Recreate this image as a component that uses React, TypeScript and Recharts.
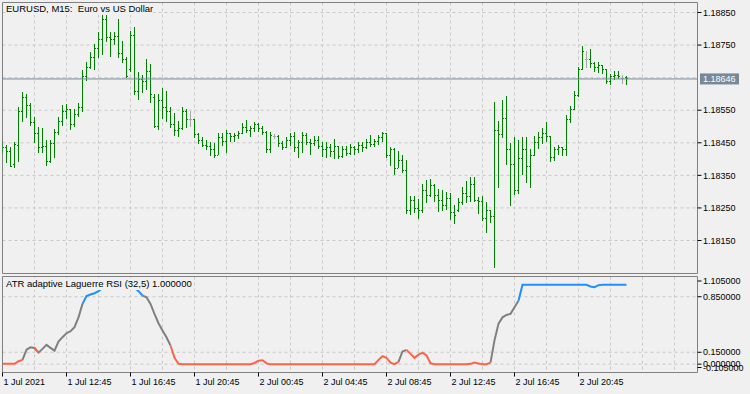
import {
  ComposedChart,
  Bar,
  Line,
  XAxis,
  YAxis,
  CartesianGrid,
  ReferenceLine,
  ReferenceArea
} from "recharts";

// EURUSD M15, 1 Jul 2021 08:45 -> 2 Jul 2021 23:45 (157 bars)
const opens = [
  1.18446, 1.18437, 1.18422, 1.18382, 1.18443, 1.18545, 1.18588, 1.18566, 1.18511, 1.1848,
  1.18434, 1.1844, 1.18394, 1.18449, 1.18483, 1.18514, 1.18545, 1.18551, 1.18505, 1.18538,
  1.18557, 1.18652, 1.1868, 1.18711, 1.18741, 1.18766, 1.18828, 1.18772, 1.18766, 1.18775,
  1.18723, 1.18705, 1.18674, 1.18778, 1.18606, 1.18643, 1.18637, 1.18668, 1.18588, 1.18501,
  1.18581, 1.18557, 1.18545, 1.18505, 1.18489, 1.18495, 1.18545, 1.1852, 1.1852, 1.18474,
  1.18458, 1.18443, 1.1844, 1.18428, 1.18412, 1.18465, 1.18455, 1.18477, 1.18468, 1.18471,
  1.1848, 1.18498, 1.18489, 1.18495, 1.18505, 1.18495, 1.18483, 1.18428, 1.18468, 1.18468,
  1.18449, 1.18437, 1.18458, 1.18468, 1.18434, 1.18452, 1.18471, 1.18452, 1.18449, 1.18458,
  1.1844, 1.18428, 1.18434, 1.18422, 1.1844, 1.18409, 1.18428, 1.18418, 1.18434, 1.18428,
  1.18443, 1.18437, 1.18452, 1.18446, 1.18455, 1.18465, 1.18477, 1.18412, 1.18428, 1.18372,
  1.18397, 1.18366, 1.18243, 1.18274, 1.18249, 1.18243, 1.18305, 1.18289, 1.1832, 1.18289,
  1.18274, 1.18258, 1.1828, 1.18237, 1.18243, 1.18268, 1.18295, 1.18286, 1.18323, 1.18274,
  1.18271, 1.18219, 1.18243, 1.18225, 1.18489, 1.18474, 1.18526, 1.18428, 1.18382, 1.18305,
  1.18403, 1.18428, 1.18378, 1.18412, 1.18452, 1.18465, 1.1848, 1.18468, 1.18406, 1.18428,
  1.18434, 1.18428, 1.1852, 1.18551, 1.18594, 1.18674, 1.18705, 1.18705, 1.18692, 1.1868,
  1.18686, 1.18674, 1.18637, 1.18655, 1.18658, 1.18646, 1.18649
];
const highs = [
  1.18455, 1.18443, 1.18434, 1.18452, 1.18557, 1.18603, 1.18597, 1.18572, 1.18529, 1.18498,
  1.18495, 1.18458, 1.18458, 1.18492, 1.18529, 1.18566, 1.18569, 1.18551, 1.18551, 1.18572,
  1.18671, 1.18698, 1.18726, 1.18751, 1.18788, 1.18846, 1.18849, 1.18788, 1.18788, 1.18828,
  1.1876, 1.18711, 1.18791, 1.18803, 1.18665, 1.18658, 1.18705, 1.18689, 1.18597, 1.18597,
  1.18618, 1.18606, 1.18557, 1.18541, 1.18514, 1.18557, 1.18551, 1.18545, 1.1852, 1.1848,
  1.18465, 1.18458, 1.18452, 1.18449, 1.18477, 1.18477, 1.18489, 1.1848, 1.1848, 1.18486,
  1.18508, 1.18517, 1.18501, 1.18511, 1.18508, 1.18501, 1.18486, 1.18483, 1.18474, 1.18471,
  1.18455, 1.18465, 1.18477, 1.18483, 1.18458, 1.18483, 1.18477, 1.18461, 1.18468, 1.18468,
  1.18452, 1.18452, 1.18446, 1.18461, 1.1844, 1.1844, 1.1844, 1.18446, 1.1844, 1.18452,
  1.18452, 1.18461, 1.18471, 1.18461, 1.18471, 1.18483, 1.18477, 1.18437, 1.18431, 1.18422,
  1.18412, 1.18397, 1.18286, 1.18286, 1.18277, 1.18323, 1.18335, 1.18338, 1.18323, 1.18308,
  1.18302, 1.18298, 1.18295, 1.18258, 1.1828, 1.18314, 1.18332, 1.18342, 1.18342, 1.18283,
  1.18286, 1.18268, 1.18243, 1.18575, 1.18514, 1.18581, 1.18591, 1.18449, 1.18465, 1.18458,
  1.18465, 1.18465, 1.18428, 1.18468, 1.18483, 1.18495, 1.18511, 1.18468, 1.18437, 1.18443,
  1.18437, 1.18535, 1.1856, 1.18606, 1.1868, 1.18745, 1.18729, 1.18735, 1.18695, 1.18695,
  1.18686, 1.18674, 1.18661, 1.18668, 1.18668, 1.18658, 1.18652
];
const lows = [
  1.18422, 1.18391, 1.18375, 1.18375, 1.18391, 1.18514, 1.18526, 1.18505, 1.18452, 1.18422,
  1.18422, 1.18382, 1.18391, 1.18406, 1.18477, 1.18505, 1.18526, 1.18489, 1.18498, 1.18532,
  1.18545, 1.18643, 1.18677, 1.18674, 1.18711, 1.1872, 1.1876, 1.18714, 1.18751, 1.18711,
  1.18695, 1.18649, 1.18668, 1.18597, 1.18581, 1.18606, 1.18612, 1.18572, 1.18495, 1.18489,
  1.18526, 1.18514, 1.18495, 1.18474, 1.18468, 1.18489, 1.18495, 1.18498, 1.18465, 1.18449,
  1.18437, 1.18431, 1.18412, 1.18406, 1.18412, 1.1844, 1.18422, 1.18455, 1.18455, 1.18465,
  1.18477, 1.1848, 1.18471, 1.18483, 1.18483, 1.18477, 1.18422, 1.18422, 1.18461, 1.18437,
  1.18431, 1.18434, 1.1844, 1.18425, 1.18406, 1.18422, 1.18443, 1.18415, 1.1844, 1.18431,
  1.18409, 1.18406, 1.18409, 1.18403, 1.18403, 1.18406, 1.18412, 1.18415, 1.18415, 1.18422,
  1.18425, 1.18434, 1.18437, 1.1844, 1.18443, 1.18455, 1.18403, 1.18382, 1.18351, 1.18372,
  1.1836, 1.18234, 1.18231, 1.18237, 1.18219, 1.18237, 1.18268, 1.18286, 1.18271, 1.1824,
  1.1824, 1.18246, 1.18215, 1.18203, 1.1824, 1.18262, 1.18268, 1.18268, 1.18268, 1.18234,
  1.18212, 1.18175, 1.18206, 1.18068, 1.18311, 1.18468, 1.18382, 1.18258, 1.18289, 1.18295,
  1.18351, 1.18326, 1.18311, 1.18409, 1.18434, 1.18449, 1.18452, 1.18391, 1.18397, 1.18415,
  1.18412, 1.18412, 1.18511, 1.18551, 1.18591, 1.18674, 1.1868, 1.1868, 1.18668, 1.18665,
  1.18661, 1.18631, 1.18631, 1.18643, 1.18646, 1.18634, 1.18628
];
const closes = [
  1.18437, 1.18422, 1.18378, 1.18446, 1.18545, 1.18588, 1.18566, 1.18511, 1.1848, 1.18434,
  1.1844, 1.18394, 1.18449, 1.18483, 1.18514, 1.18545, 1.18551, 1.18505, 1.18538, 1.18557,
  1.18652, 1.1868, 1.18711, 1.18741, 1.18766, 1.18828, 1.18772, 1.18766, 1.18775, 1.18723,
  1.18705, 1.18655, 1.18778, 1.18606, 1.18643, 1.18637, 1.18668, 1.18597, 1.18501, 1.18581,
  1.18557, 1.18545, 1.18505, 1.18489, 1.18495, 1.18545, 1.1852, 1.1852, 1.18474, 1.18458,
  1.18443, 1.1844, 1.18428, 1.18412, 1.18465, 1.18455, 1.18477, 1.18468, 1.18471, 1.1848,
  1.18498, 1.18489, 1.18495, 1.18505, 1.18495, 1.18483, 1.18428, 1.18471, 1.18468, 1.18449,
  1.18437, 1.18458, 1.18468, 1.18434, 1.18452, 1.18471, 1.18452, 1.18449, 1.18458, 1.1844,
  1.18428, 1.18434, 1.18422, 1.1844, 1.18409, 1.18428, 1.18418, 1.18434, 1.18428, 1.18443,
  1.18437, 1.18452, 1.18446, 1.18455, 1.18465, 1.18477, 1.18412, 1.18428, 1.18372, 1.18397,
  1.18366, 1.18243, 1.18274, 1.18249, 1.18243, 1.18305, 1.18289, 1.1832, 1.18289, 1.18274,
  1.18258, 1.1828, 1.18237, 1.18228, 1.18268, 1.18295, 1.18286, 1.18323, 1.18274, 1.18271,
  1.18219, 1.18243, 1.18225, 1.18489, 1.18474, 1.18526, 1.18428, 1.18382, 1.18305, 1.18403,
  1.18428, 1.18378, 1.18412, 1.18452, 1.18465, 1.1848, 1.18468, 1.18406, 1.18428, 1.18434,
  1.18428, 1.1852, 1.18551, 1.18594, 1.18674, 1.18729, 1.18705, 1.18692, 1.1868, 1.18686,
  1.18674, 1.18637, 1.18655, 1.18658, 1.18652, 1.18646, 1.18646
];

// ATR adaptive Laguerre RSI (32,5)
const rsi = [
  0.004, 0.004, 0.004, 0.004, 0.037, 0.054, 0.184, 0.213, 0.205, 0.145,
  0.193, 0.243, 0.205, 0.17, 0.285, 0.34, 0.39, 0.415, 0.466, 0.59,
  0.76, 0.86, 0.878, 0.894, 0.92, 0.96, 0.99, 1, 1, 1,
  1, 1, 1, 0.97, 0.92, 0.865, 0.844, 0.76, 0.634, 0.516,
  0.424, 0.34, 0.235, 0.079, 0.004, 0, 0, 0, 0, 0,
  0, 0, 0, 0, 0, 0, 0, 0, 0, 0,
  0, 0, 0, 0.015, 0.045, 0.05, 0.01, 0, 0, 0,
  0, 0, 0, 0, 0, 0, 0, 0, 0, 0,
  0, 0, 0, 0, 0, 0, 0, 0, 0, 0,
  0, 0, 0, 0, 0.054, 0.1, 0.08, 0.02, 0, 0.03,
  0.16, 0.18, 0.13, 0.08, 0.12, 0.145, 0.11, 0.012, 0, 0,
  0, 0, 0, 0, 0, 0, 0, 0.004, 0.02, 0.008,
  0, 0, 0.02, 0.3, 0.51, 0.59, 0.62, 0.634, 0.718, 0.8,
  1, 1, 1, 1, 1, 1, 1, 1, 1, 1,
  1, 1, 1, 1, 1, 1, 1, 0.98, 0.97, 0.995,
  1, 1, 1, 1, 1, 1, 1
];

const priceTicks = [1.1815, 1.1825, 1.1835, 1.1845, 1.1855, 1.1865, 1.1875, 1.1885];
const rsiGrid = [0, 0.15, 0.85];
const rsiTicks = [-0.105, 0, 0.15, 0.85, 1.105];
const gridBars = [0, 8, 16, 24, 32, 40, 48, 56, 64, 72, 80, 88, 96, 104, 112, 120, 128, 136, 144, 152, 160, 168];
const labelBars = [0, 16, 32, 48, 64, 80, 96, 112, 128, 144];
const timeLabels = [
  "1 Jul 2021", "1 Jul 12:45", "1 Jul 16:45", "1 Jul 20:45", "2 Jul 00:45",
  "2 Jul 04:45", "2 Jul 08:45", "2 Jul 12:45", "2 Jul 16:45", "2 Jul 20:45"
];

const UP_LEVEL = 0.85;
const DOWN_LEVEL = 0.15;
const X_DOMAIN: [number, number] = [0, 173.75];
const PRICE_DOMAIN: [number, number] = [1.180487, 1.188807];
const RSI_DOMAIN: [number, number] = [-0.105, 1.105];

const BG = "#f0f0f0";
const GRID = "#c8c8c8";
const FRAME = "#808080";
const FONT = "'Liberation Sans', Arial, sans-serif";

const lastPrice = closes[closes.length - 1];

const bars = closes.map((c, i) => ({ i, open: opens[i], high: highs[i], low: lows[i], close: c }));

// colour of segment i-1 -> i follows the state of bar i
const stateOf = (v: number) => (v > UP_LEVEL ? "up" : v < DOWN_LEVEL ? "down" : "mid");
const rsiRows = rsi.map((v, i) => {
  const own = stateOf(v);
  const next = i + 1 < rsi.length ? stateOf(rsi[i + 1]) : null;
  const pick = (s: string) => (own === s || next === s ? v : null);
  return { i, mid: pick("mid"), down: pick("down"), up: pick("up") };
});

function OhlcShape(props: any) {
  const { x, y, width, height, payload } = props;
  if (x == null || !payload) return <g />;
  const top = Math.min(y, y + height);
  const h = Math.abs(height);
  const span = payload.high - payload.low;
  const at = (p: number) => (span > 0 ? top + ((payload.high - p) / span) * h : top);
  const cx = Math.round(x + width / 2 - 0.5);
  const color = payload.open === payload.close ? "#a8a8a8" : "#008000";
  return (
    <g fill={color}>
      <rect x={cx} y={Math.floor(top)} width={1} height={Math.max(1, Math.round(h) + 1)} />
      <rect x={cx - 1} y={Math.floor(at(payload.open))} width={1} height={1} />
      <rect x={cx + 1} y={Math.floor(at(payload.close))} width={1} height={1} />
    </g>
  );
}

function PriceTick(props: any) {
  const { x, y, payload } = props;
  const v = payload.value;
  if (v === lastPrice) {
    return (
      <g>
        <rect x={x + 2.5} y={y - 5.5} width={39} height={11} fill="#778899" />
        <text x={x + 5.5} y={y} dy="0.35em" fill="#fff" fontFamily={FONT} fontSize={9}>
          {v.toFixed(5)}
        </text>
      </g>
    );
  }
  if (Math.abs(v - lastPrice) < 0.00015) return <g />;
  return (
    <g>
      <line x1={x} x2={x + 4} y1={y} y2={y} stroke="#000" />
      <text x={x + 5.5} y={y} dy="0.35em" fill="#000" fontFamily={FONT} fontSize={9}>
        {v.toFixed(5)}
      </text>
    </g>
  );
}

function RsiTick(props: any) {
  const { x, y, payload } = props;
  const ty = Math.min(Math.max(y, 5), 91.5);
  return (
    <g>
      <line x1={x} x2={x + 4} y1={ty} y2={ty} stroke="#000" />
      <text x={x + 5.5} y={ty} dy="0.35em" fill="#000" fontFamily={FONT} fontSize={9}>
        {payload.value.toFixed(6)}
      </text>
    </g>
  );
}

function TimeTick(props: any) {
  const { x, y, payload } = props;
  const k = labelBars.indexOf(payload.value);
  return (
    <g>
      <line x1={x} x2={x} y1={y} y2={y + 4} stroke="#000" />
      <text x={x + 1} y={y + 12.5} fill="#000" fontFamily={FONT} fontSize={9}>
        {timeLabels[k]}
      </text>
    </g>
  );
}

const titleStyle = {
  position: "absolute" as const,
  background: BG,
  color: "#000",
  font: `9.5px ${FONT}`,
  lineHeight: "12px",
  whiteSpace: "pre" as const
};

export default function App() {
  return (
    <div style={{ position: "absolute", left: 0, top: 0, width: 750, height: 394, background: BG, overflow: "hidden" }}>
      <div style={{ position: "absolute", left: 0, top: 0 }}>
        <ComposedChart width={750} height={276} data={bars} margin={{ top: 2.5, right: 0, bottom: 2.5, left: 2.5 }}>
          <CartesianGrid stroke={GRID} strokeDasharray="3 3" verticalValues={gridBars} horizontalValues={priceTicks} />
          <XAxis dataKey="i" type="number" domain={X_DOMAIN} allowDataOverflow hide />
          <YAxis
            orientation="right"
            type="number"
            domain={PRICE_DOMAIN}
            allowDataOverflow
            ticks={[...priceTicks, lastPrice]}
            interval={0}
            width={52.5}
            tickSize={0}
            tickMargin={0}
            tickLine={false}
            axisLine={false}
            tick={PriceTick}
          />
          <ReferenceArea x1={X_DOMAIN[0]} x2={X_DOMAIN[1]} y1={PRICE_DOMAIN[0]} y2={PRICE_DOMAIN[1]} fill="none" stroke={FRAME} />
          <ReferenceLine y={lastPrice} stroke="#778899" />
          <Bar dataKey={(d: any) => [d.low, d.high]} barSize={3} shape={OhlcShape} isAnimationActive={false} />
        </ComposedChart>
      </div>
      <div style={{ position: "absolute", left: 0, top: 276 }}>
        <ComposedChart width={750} height={118} data={rsiRows} margin={{ top: 0.5, right: 0, bottom: 0, left: 2.5 }}>
          <CartesianGrid stroke={GRID} strokeDasharray="3 3" verticalValues={gridBars} horizontalValues={rsiGrid} />
          <XAxis
            dataKey="i"
            type="number"
            domain={X_DOMAIN}
            allowDataOverflow
            ticks={labelBars}
            interval={0}
            height={21.5}
            tickSize={0}
            tickMargin={0}
            tickLine={false}
            axisLine={false}
            tick={TimeTick}
          />
          <YAxis
            orientation="right"
            type="number"
            domain={RSI_DOMAIN}
            allowDataOverflow
            ticks={rsiTicks}
            interval={0}
            width={52.5}
            tickSize={0}
            tickMargin={0}
            tickLine={false}
            axisLine={false}
            tick={RsiTick}
          />
          <ReferenceArea x1={X_DOMAIN[0]} x2={X_DOMAIN[1]} y1={RSI_DOMAIN[0]} y2={RSI_DOMAIN[1]} fill="none" stroke={FRAME} />
          <Line dataKey="mid" stroke="#808080" strokeWidth={2} dot={false} activeDot={false} isAnimationActive={false} />
          <Line dataKey="down" stroke="#ff6347" strokeWidth={2} dot={false} activeDot={false} isAnimationActive={false} />
          <Line dataKey="up" stroke="#1e90ff" strokeWidth={2} dot={false} activeDot={false} isAnimationActive={false} />
        </ComposedChart>
      </div>
      <div style={{ ...titleStyle, left: 6, top: 3 }}>{"EURUSD, M15:  Euro vs US Dollar"}</div>
      <div style={{ ...titleStyle, left: 6, top: 278 }}>
        {`ATR adaptive Laguerre RSI (32,5) ${rsi[rsi.length - 1].toFixed(6)}`}
      </div>
    </div>
  );
}
